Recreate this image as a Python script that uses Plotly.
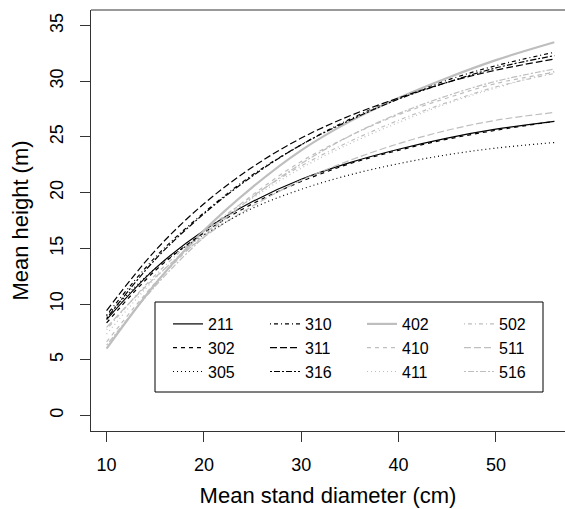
import plotly.graph_objects as go

diameter = [10, 15, 20, 25, 30, 35, 40, 45, 50, 56]

h211 = [8.6, 13.2, 16.6, 19.2, 21.2, 22.7, 23.9, 24.9, 25.7, 26.4]
h302 = [8.3, 13.0, 16.4, 19.0, 21.0, 22.6, 23.8, 24.8, 25.6, 26.4]
h305 = [8.9, 13.2, 16.2, 18.6, 20.3, 21.6, 22.6, 23.4, 24.0, 24.5]
h310 = [9.0, 14.2, 18.2, 21.6, 24.3, 26.6, 28.5, 30.1, 31.4, 32.6]
h311 = [9.4, 14.8, 19.0, 22.3, 24.9, 26.9, 28.5, 29.9, 31.0, 32.0]
h316 = [8.7, 14.0, 18.1, 21.5, 24.3, 26.5, 28.4, 29.9, 31.2, 32.3]
h402 = [6.0, 11.8, 16.6, 20.5, 23.8, 26.4, 28.5, 30.3, 31.9, 33.5]
h410 = [6.6, 11.9, 16.2, 19.8, 22.8, 25.1, 27.0, 28.5, 29.8, 30.8]
h411 = [7.3, 12.3, 16.3, 19.5, 22.2, 24.4, 26.3, 28.0, 29.4, 30.9]
h502 = [7.7, 12.6, 16.5, 19.7, 22.4, 24.6, 26.5, 28.1, 29.5, 30.7]
h511 = [7.9, 12.4, 16.0, 18.8, 21.1, 22.9, 24.4, 25.6, 26.5, 27.2]
h516 = [6.3, 11.6, 16.0, 19.6, 22.6, 25.1, 27.1, 28.7, 30.0, 31.1]

x_ticks = [10, 20, 30, 40, 50]
y_ticks = [0, 5, 10, 15, 20, 25, 30, 35]

DASHED = "4px,4px"
DOTTED = "1px,3px"
DOTDASH = "1px,3px,4px,3px"
LONGDASH = "7px,3px"
TWODASH = "2px,2px,6px,2px"

BLACK = "#000000"
GREY = "#BEBEBE"

# ordered row-wise for a horizontal legend with 4 columns
series = [
    ("211", h211, BLACK, "solid", 1.2),
    ("310", h310, BLACK, DOTDASH, 1.2),
    ("402", h402, GREY, "solid", 2.2),
    ("502", h502, GREY, DOTDASH, 1.2),
    ("302", h302, BLACK, DASHED, 1.2),
    ("311", h311, BLACK, LONGDASH, 1.2),
    ("410", h410, GREY, DASHED, 1.2),
    ("511", h511, GREY, LONGDASH, 1.2),
    ("305", h305, BLACK, DOTTED, 1.2),
    ("316", h316, BLACK, TWODASH, 1.2),
    ("411", h411, GREY, DOTTED, 1.2),
    ("516", h516, GREY, TWODASH, 1.2),
]

fig = go.Figure()
for name, vals, col, dash, w in series:
    fig.add_trace(go.Scatter(
        x=diameter, y=vals, mode="lines", name=name,
        line=dict(color=col, dash=dash, width=w, shape="spline", smoothing=1.0),
    ))

W, H = 565, 509
ML, MT, MB, MR = 91, 10, 78, 0
PW, PH = W - ML - MR, H - MT - MB


def px(x):
    return (x - ML) / PW


def py(y):
    return (MT + PH - y) / PH


font = "Liberation Sans, Arial, sans-serif"
fig.update_layout(
    width=W, height=H,
    margin=dict(l=ML, r=MR, t=MT, b=MB, autoexpand=False),
    plot_bgcolor="white", paper_bgcolor="white",
    font=dict(family=font, size=18, color="black"),
    showlegend=True,
    legend=dict(
        orientation="h", x=px(168), y=py(307), xanchor="left", yanchor="top",
        borderwidth=0, bgcolor="rgba(0,0,0,0)",
        font=dict(family=font, size=16, color="black"),
        entrywidth=52, entrywidthmode="pixels",
        traceorder="normal", tracegroupgap=0,
    ),
    xaxis=dict(
        range=[8.4, 57.1], tickvals=x_ticks, ticks="outside", ticklen=10,
        tickcolor="#333333", showline=True, linecolor="#333333", linewidth=1,
        showgrid=False, zeroline=False, automargin=False, ticklabelstandoff=7,
        title=dict(text="Mean stand diameter (cm)", standoff=14),
    ),
    yaxis=dict(
        range=[-1.4, 36.4], tickvals=y_ticks, ticks="outside", ticklen=10,
        tickcolor="#333333", showline=True, linecolor="#333333", linewidth=1,
        showgrid=False, zeroline=False, tickangle=-90, automargin=False,
        ticklabelstandoff=10,
        title=dict(text="Mean height (m)", standoff=12),
    ),
    shapes=[
        dict(type="line", xref="paper", yref="paper", x0=0, x1=1, y0=1, y1=1,
             line=dict(color="#333333", width=1)),
        dict(type="rect", xref="paper", yref="paper", layer="above",
             x0=px(155), x1=px(543), y0=py(392), y1=py(302),
             fillcolor="white", line=dict(color="black", width=1)),
    ],
)

fig.write_html(
    "out.html",
    config={"displayModeBar": False},
    post_script="document.body.style.margin='0px';document.body.style.overflow='hidden';",
)
